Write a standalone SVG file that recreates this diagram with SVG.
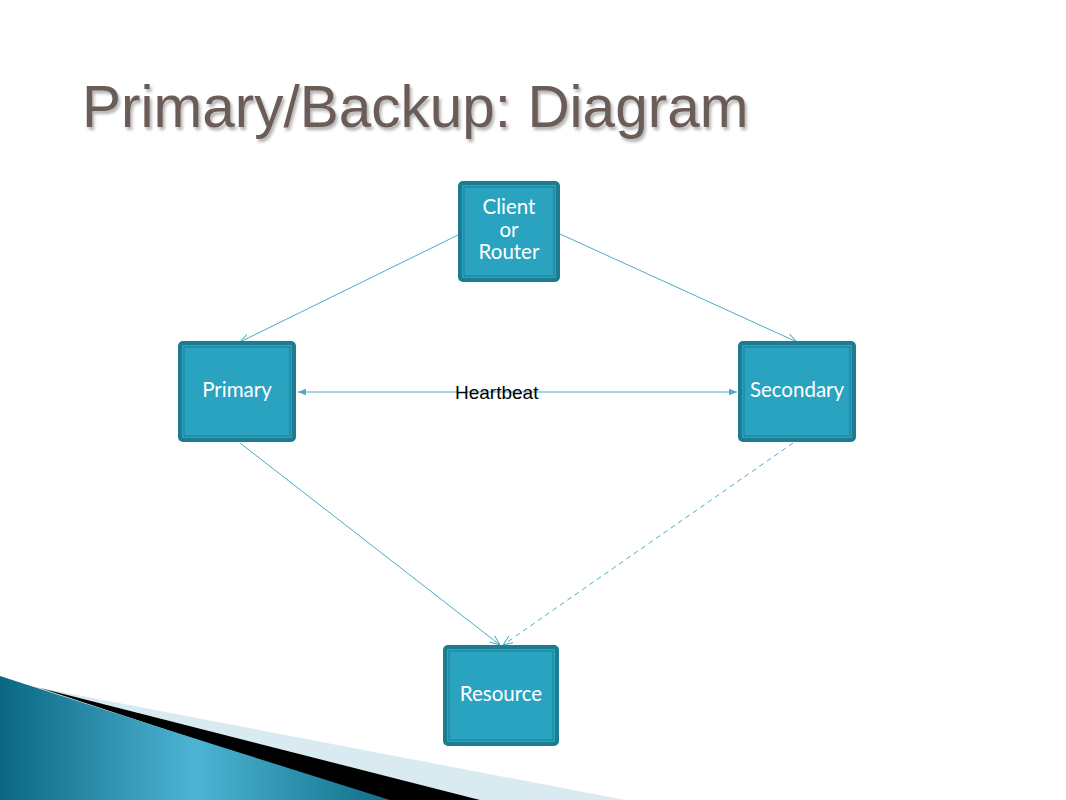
<svg xmlns="http://www.w3.org/2000/svg" width="1066" height="800" viewBox="0 0 1066 800">
<style>
.box{fill:#2AA3C1;stroke:#1C7C92;stroke-width:4}
.inner{fill:none;stroke:#1C7C92;stroke-width:1}
.lbl{font-family:Lato,"Open Sans","DejaVu Sans",sans-serif;font-size:20.5px;fill:#FFFFFF;text-anchor:middle}
.conn{stroke:#4BACC6;stroke-width:1;fill:none}
</style>
<defs>
<marker id="open" viewBox="0 0 10 10" refX="10" refY="5" markerWidth="10" markerHeight="10" markerUnits="userSpaceOnUse" orient="auto">
<path d="M0,1 L10,5 L0,9" fill="none" stroke="#4BACC6" stroke-width="1"/>
</marker>
<marker id="tri" viewBox="0 0 10 10" refX="10" refY="5" markerWidth="8" markerHeight="8" markerUnits="userSpaceOnUse" orient="auto-start-reverse">
<path d="M0,1 L10,5 L0,9 Z" fill="#4BACC6"/>
</marker>
<linearGradient id="teal" x1="0" y1="0" x2="1" y2="0">
<stop offset="0" stop-color="#0B6781"/>
<stop offset="0.5" stop-color="#4DB4D4"/>
<stop offset="1" stop-color="#0E6F89"/>
</linearGradient>
<filter id="shadow" x="-5%" y="-20%" width="110%" height="150%">
<feDropShadow dx="2" dy="3" stdDeviation="1.5" flood-color="#000000" flood-opacity="0.3"/>
</filter>
</defs>
<rect width="1066" height="800" fill="#FFFFFF"/>
<g id="swoosh">
<path d="M20,684 Q280,734 625,800 L380,800 Z" fill="#D9EAF1"/>
<path d="M40,688 L480,800 L380,800 Z" fill="#000000"/>
<path d="M0,676 Q160,728 390,800 L0,800 Z" fill="url(#teal)"/>
</g>
<text id="title" x="82" y="127" font-family="'Liberation Sans',Arial,sans-serif" font-size="58.5" fill="#6B5B56" filter="url(#shadow)">Primary/Backup: Diagram</text>
<g id="connectors">
<line class="conn" x1="458" y1="235" x2="240" y2="342" marker-end="url(#open)"/>
<line class="conn" x1="560" y1="234" x2="797" y2="342" marker-end="url(#open)"/>
<line class="conn" x1="298" y1="392" x2="737" y2="392" marker-start="url(#tri)" marker-end="url(#tri)"/>
<line class="conn" x1="240" y1="443" x2="500" y2="645" marker-end="url(#open)"/>
<line class="conn" x1="793" y1="443" x2="503" y2="645" stroke-dasharray="5,4" marker-end="url(#open)"/>
<text x="455" y="399" font-family="'Liberation Sans',Arial,sans-serif" font-size="19" fill="#000000">Heartbeat</text>
</g>
<g id="client">
<rect class="box" x="460" y="183" width="98" height="97" rx="3"/>
<rect class="inner" x="464" y="187" width="90" height="89"/>
<text class="lbl" x="509" y="214">Client</text>
<text class="lbl" x="509" y="237">or</text>
<text class="lbl" x="509" y="259">Router</text>
</g>
<g id="primary">
<rect class="box" x="180" y="343" width="114" height="97" rx="3"/>
<rect class="inner" x="184" y="347" width="106" height="89"/>
<text class="lbl" x="237" y="397">Primary</text>
</g>
<g id="secondary">
<rect class="box" x="740" y="343" width="114" height="97" rx="3"/>
<rect class="inner" x="744" y="347" width="106" height="89"/>
<text class="lbl" x="797" y="397">Secondary</text>
</g>
<g id="resource">
<rect class="box" x="445" y="647" width="112" height="97" rx="3"/>
<rect class="inner" x="449" y="651" width="104" height="89"/>
<text class="lbl" x="501" y="701">Resource</text>
</g>
</svg>
